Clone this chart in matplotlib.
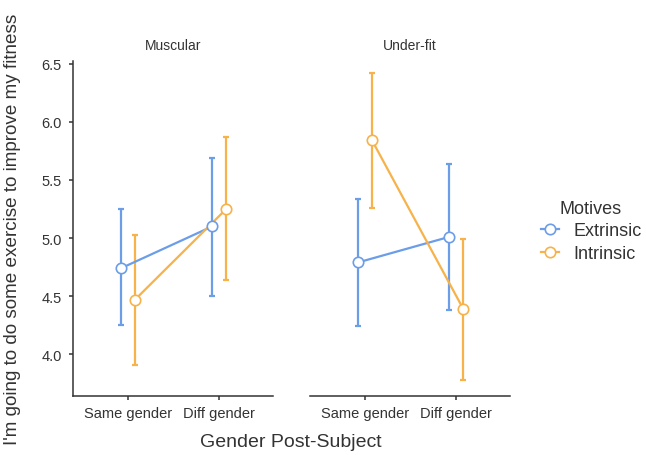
import matplotlib
matplotlib.use("Agg")
import matplotlib.pyplot as plt
from matplotlib.lines import Line2D

plt.rcParams['font.family'] = ['Liberation Sans', 'DejaVu Sans']

panels = ["Muscular", "Under-fit"]
categories = ["Same gender", "Diff gender"]
motives = ["Extrinsic", "Intrinsic"]

muscular_extrinsic_mean = [4.74, 5.10]
muscular_extrinsic_low = [4.25, 4.50]
muscular_extrinsic_high = [5.25, 5.69]
muscular_intrinsic_mean = [4.47, 5.25]
muscular_intrinsic_low = [3.91, 4.64]
muscular_intrinsic_high = [5.03, 5.87]

underfit_extrinsic_mean = [4.79, 5.01]
underfit_extrinsic_low = [4.24, 4.38]
underfit_extrinsic_high = [5.34, 5.64]
underfit_intrinsic_mean = [5.84, 4.39]
underfit_intrinsic_low = [5.26, 3.78]
underfit_intrinsic_high = [6.42, 4.99]

data = {
    "Muscular": {
        "Extrinsic": (muscular_extrinsic_mean, muscular_extrinsic_low, muscular_extrinsic_high),
        "Intrinsic": (muscular_intrinsic_mean, muscular_intrinsic_low, muscular_intrinsic_high),
    },
    "Under-fit": {
        "Extrinsic": (underfit_extrinsic_mean, underfit_extrinsic_low, underfit_extrinsic_high),
        "Intrinsic": (underfit_intrinsic_mean, underfit_intrinsic_low, underfit_intrinsic_high),
    },
}

colors = {"Extrinsic": "#6B9DE8", "Intrinsic": "#F7B24A"}
dodge = {"Extrinsic": -0.077, "Intrinsic": 0.077}
axis_color = "#333333"
text_color = "#333333"

W, H = 646, 456
fig = plt.figure(figsize=(W / 100, H / 100), dpi=100)

ax_bottom = (H - 397) / H
ax_height = (397 - 59) / H
ax_left_px = [73, 310]
ax_w = 200 / W

ymin, ymax = 3.64, 6.55
for i, panel in enumerate(panels):
    ax = fig.add_axes([ax_left_px[i] / W, ax_bottom, ax_w, ax_height])
    for m in motives:
        mean, lo, hi = data[panel][m]
        xs = [j + dodge[m] for j in range(len(categories))]
        yerr = [[mv - l for mv, l in zip(mean, lo)], [h - mv for mv, h in zip(mean, hi)]]
        ax.errorbar(xs, mean, yerr=yerr, fmt='none', ecolor=colors[m],
                    elinewidth=1.6, capsize=2.2, capthick=1.6, zorder=2)
        ax.plot(xs, mean, color=colors[m], lw=1.6, zorder=3)
        ax.plot(xs, mean, 'o', ms=7.5, mfc='white', mec=colors[m], mew=1.2, zorder=4)
    ax.set_xlim(-0.604, 1.59)
    ax.set_ylim(ymin, ymax)
    ax.set_xticks(range(len(categories)))
    ax.set_xticklabels(categories)
    for s in ["top", "right"]:
        ax.spines[s].set_visible(False)
    ax.spines["bottom"].set_color(axis_color)
    ax.spines["bottom"].set_linewidth(1.1)
    ax.tick_params(axis='x', direction='out', length=3, width=1.1, color=axis_color,
                   labelsize=10.5, labelcolor=text_color, pad=4)
    if i == 0:
        ax.spines["left"].set_color(axis_color)
        ax.spines["left"].set_linewidth(1.1)
        ax.spines["left"].set_bounds(ymin, 6.52)
        ax.set_yticks([4.0, 4.5, 5.0, 5.5, 6.0, 6.5])
        ax.set_yticklabels(["4.0", "4.5", "5.0", "5.5", "6.0", "6.5"])
        ax.tick_params(axis='y', direction='out', length=3, width=1.1, color=axis_color,
                       labelsize=10.5, labelcolor=text_color, pad=5)
    else:
        ax.spines["left"].set_visible(False)
        ax.set_yticks([])
    ax.patch.set_alpha(0)
    fig.text((ax_left_px[i] + 100) / W, (H - 46) / H, panel, ha='center', va='center',
             fontsize=10, color=text_color)

fig.text(291 / W, (H - 443) / H, "Gender Post-Subject", ha='center', va='center',
         fontsize=14, color=text_color)
fig.text(13 / W, (H - 229) / H, "I'm going to do some exercise to improve my fitness",
         rotation=90, ha='center', va='center', fontsize=13.6, color=text_color)

handles = [Line2D([0], [0], color=colors[m], lw=1.6, marker='o', ms=7.5, mfc='white',
                  mec=colors[m], mew=1.2) for m in motives]
leg = fig.legend(handles, motives, title="Motives", loc='center left',
                 bbox_to_anchor=(537 / W, (H - 232) / H), frameon=False,
                 fontsize=13, title_fontsize=13, handlelength=1.0, handletextpad=0.8,
                 labelspacing=0.3, borderaxespad=0, borderpad=0.2)
for t in leg.get_texts():
    t.set_color(text_color)
leg.get_title().set_color(text_color)

fig.savefig("out.png", dpi=100, facecolor='white')
